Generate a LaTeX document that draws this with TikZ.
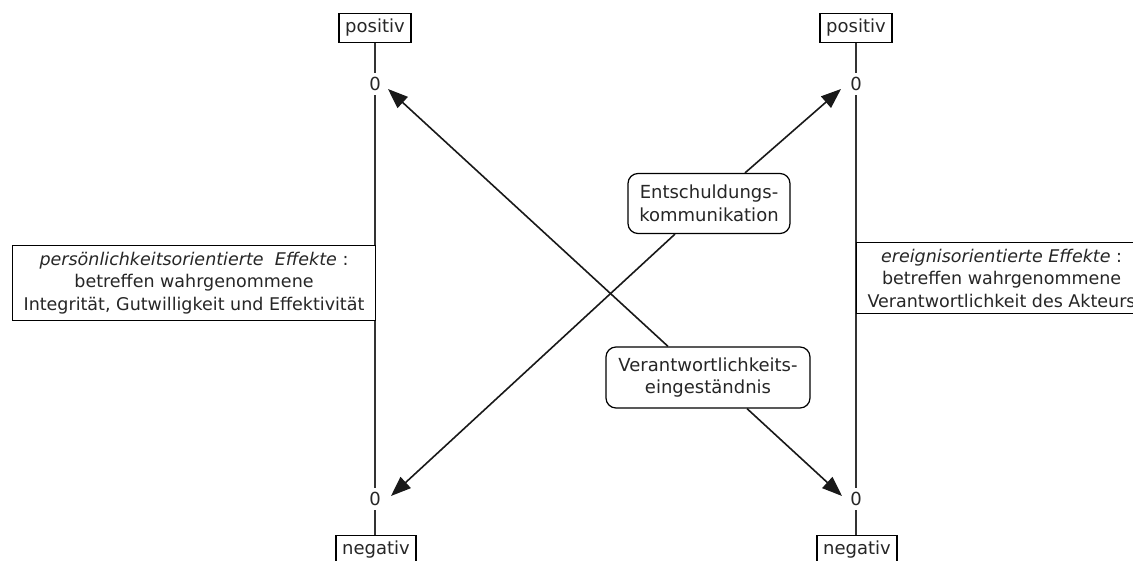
\documentclass[tikz,border=0pt]{standalone}
\usepackage{fontspec}
\setmainfont{DejaVu Sans}
\usetikzlibrary{arrows.meta}
\begin{document}
\begin{tikzpicture}[x=1pt,y=-1pt,
  every node/.style={font=\fontsize{17.5}{22.5}\selectfont, text=black!85},
  lab/.style={draw, line width=1.2pt, inner xsep=3pt, inner ysep=0pt, minimum height=29pt, minimum width=72pt, font=\fontsize{18}{22}\selectfont},
  zero/.style={inner xsep=1pt, inner ysep=4pt, font=\fontsize{18}{22}\selectfont},
  ax/.style={line width=1.6pt, black!80},
  rbox/.style={draw, line width=1.2pt, rounded corners=10pt, align=center, inner xsep=3pt, inner ysep=4pt, font=\fontsize{18}{22.5}\selectfont},
  ebox/.style={draw, line width=1.2pt, fill=white, align=center, inner xsep=2pt, inner ysep=3pt, minimum height=75pt},
  arr/.style={line width=1.6pt, black!90, -{Triangle[length=20pt,width=15pt]}}]
\clip (0,0) rectangle (1133,561);
\fill[white] (0,0) rectangle (1133,561);
% left axis
\node[lab] (posL) at (375,28) {positiv};
\node[zero] (zLt) at (375,84) {0};
\node[zero] (zLb) at (375,499) {0};
\node[lab, minimum width=80pt] (negL) at (376,550) {negativ};
\draw[ax] (posL) -- (zLt);
\draw[ax] (zLt) -- (zLb);
\draw[ax] (zLb) -- (zLb |- negL.north);
% right axis
\node[lab] (posR) at (856,28) {positiv};
\node[zero] (zRt) at (856,84) {0};
\node[zero] (zRb) at (856,499) {0};
\node[lab, minimum width=80pt] (negR) at (857,550) {negativ};
\draw[ax] (posR) -- (zRt);
\draw[ax] (zRt) -- (zRb);
\draw[ax] (zRb) -- (zRb |- negR.north);
% effect boxes
\node[ebox, minimum width=363pt] (persE) at (194,283) {\textit{persönlichkeitsorientierte \ Effekte} :\\ betreffen wahrgenommene\\ Integrität, Gutwilligkeit und Effektivität};
\node[ebox, anchor=west, minimum width=290pt, minimum height=71pt] (ereE) at (856,278) {\textit{ereignisorientierte Effekte} :\\ betreffen wahrgenommene\\ Verantwortlichkeit des Akteurs};
% middle boxes
\node[rbox, minimum width=162pt, minimum height=60pt] (ent) at (709,203.5) {Entschuldungs-\\kommunikation};
\node[rbox, minimum width=204pt, minimum height=61pt] (ver) at (708,377.5) {Verantwortlichkeits-\\eingeständnis};
% arrow tips
\coordinate (tLt) at (388,89);
\coordinate (tLb) at (391,496);
\coordinate (tRt) at (841,89);
\coordinate (tRb) at (842,496);
\draw[arr] (ver.north -| 668,0) -- (tLt);
\draw[arr] (ver.south -| 747,0) -- (tRb);
\draw[arr] (ent.north -| 745,0) -- (tRt);
\draw[arr] (ent.south -| 675,0) -- (tLb);
\end{tikzpicture}
\end{document}
